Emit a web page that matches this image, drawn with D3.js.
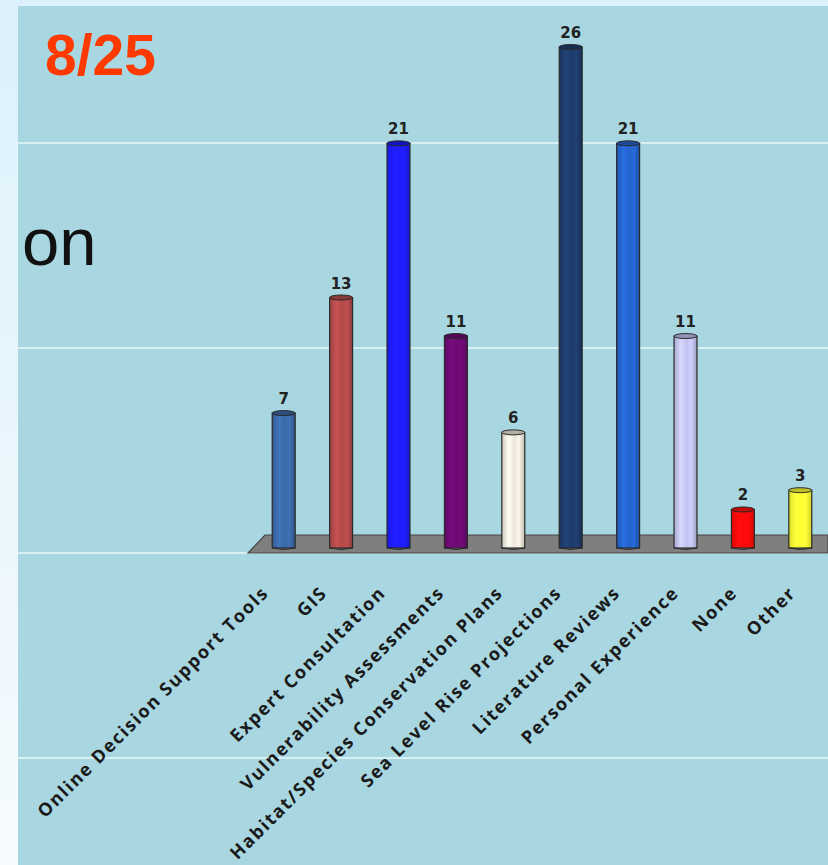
<!DOCTYPE html>
<html>
<head>
<meta charset="utf-8">
<script src="https://cdn.jsdelivr.net/npm/d3@7"></script>
<style>
  body { margin: 0; background: #e4f5fc; }
  svg { display: block; }
</style>
</head>
<body>
<script>
// chart data
const categories = ["Online Decision Support Tools", "GIS", "Expert Consultation",
  "Vulnerability Assessments", "Habitat/Species Conservation Plans",
  "Sea Level Rise Projections", "Literature Reviews", "Personal Experience",
  "None", "Other"];
const counts = [7, 13, 21, 11, 6, 26, 21, 11, 2, 3];
const barColors = ["#3b68a8", "#b44a4a", "#1c1cff", "#6c0a72", "#ece7da",
  "#1e3b6c", "#2463cc", "#c2c2f2", "#ff0a0a", "#ffff33"];
const wallTicks = [-10, 0, 10, 20];

const W = 828, H = 865;
const svg = d3.select("body").append("svg")
  .attr("width", W)
  .attr("height", H);

const defs = svg.append("defs");

let side = defs.append("linearGradient")
  .attr("id", "sideGrad")
  .attr("x1", 0).attr("x2", 0).attr("y1", 0).attr("y2", 1);
side.append("stop").attr("offset", 0).attr("stop-color", "#dcf1fb");
side.append("stop").attr("offset", 1).attr("stop-color", "#f6fbfe");

// outer frame + panel
svg.append("rect").attr("width", W).attr("height", H).attr("fill", "url(#sideGrad)");
svg.append("rect")
  .attr("x", 18).attr("y", 6)
  .attr("width", W - 18).attr("height", H - 6)
  .attr("fill", "#a9d7e1");

// back wall lines
let wallY = d3.scaleLinear().domain([0, 20]).range([553, 143]);
svg.append("g")
  .selectAll("line")
  .data(wallTicks)
  .enter()
  .append("line")
  .attr("x1", 18).attr("x2", W)
  .attr("y1", d => wallY(d)).attr("y2", d => wallY(d))
  .style("stroke", "#d6f0f4")
  .style("stroke-width", 2);

// title bits
svg.append("text")
  .text("8/25")
  .attr("x", 45).attr("y", 75)
  .style("font-family", "Liberation Sans, Arial, sans-serif")
  .style("font-weight", "bold")
  .style("font-size", "57px")
  .style("fill", "#ff3a00");

svg.append("text")
  .text("on")
  .attr("x", 22).attr("y", 265)
  .style("font-family", "Liberation Sans, Arial, sans-serif")
  .style("font-size", "67px")
  .style("fill", "#111");

// scales
let scaleX = d3.scaleBand()
  .domain(categories)
  .range([255, 829])
  .paddingInner(0.6)
  .paddingOuter(0.3);

let scaleY = d3.scaleLinear()
  .domain([0, 26])
  .range([548, 47]);

// floor
let floorL = 248, floorR = W, floorTop = 535, floorBot = 553;
svg.append("path")
  .attr("d", "M" + floorL + "," + floorBot + " L" + (floorL + 17) + "," + floorTop +
    " L" + floorR + "," + floorTop + " L" + floorR + "," + floorBot + " Z")
  .style("fill", "#7f7f7f")
  .style("stroke", "#444")
  .style("stroke-width", 1.2);

// bar gradients
barColors.forEach((c, i) => {
  let g = defs.append("linearGradient")
    .attr("id", "bar" + i)
    .attr("x1", 0).attr("x2", 1).attr("y1", 0).attr("y2", 0);
  let base = d3.color(c);
  g.append("stop").attr("offset", 0).attr("stop-color", base.darker(0.4));
  g.append("stop").attr("offset", 0.3).attr("stop-color", base.brighter(0.3));
  g.append("stop").attr("offset", 0.55).attr("stop-color", base);
  g.append("stop").attr("offset", 0.75).attr("stop-color", base.brighter(0.2));
  g.append("stop").attr("offset", 1).attr("stop-color", base.darker(0.6));
});

let bw = scaleX.bandwidth();
let bars = svg.append("g")
  .selectAll(".bar")
  .data(counts)
  .enter()
  .append("g")
  .attr("class", "bar");

bars.append("rect")
  .attr("x", (d, i) => scaleX(categories[i]))
  .attr("y", d => scaleY(d))
  .attr("width", bw)
  .attr("height", d => scaleY(0) - scaleY(d))
  .style("fill", (d, i) => "url(#bar" + i + ")")
  .style("stroke", "#2a2a2a")
  .style("stroke-width", 1.2);

// bottom curve
bars.append("path")
  .attr("d", (d, i) => {
    let x0 = scaleX(categories[i]);
    return "M" + x0 + "," + scaleY(0) + " Q" + (x0 + bw / 2) + "," + (scaleY(0) + 3) +
      " " + (x0 + bw) + "," + scaleY(0);
  })
  .style("fill", "none")
  .style("stroke", "#2a2a2a");

// top cap
bars.append("ellipse")
  .attr("cx", (d, i) => scaleX(categories[i]) + bw / 2)
  .attr("cy", d => scaleY(d))
  .attr("rx", bw / 2)
  .attr("ry", 2.5)
  .style("fill", (d, i) => d3.color(barColors[i]).darker(0.8))
  .style("stroke", "#2a2a2a")
  .style("stroke-width", 1);

// value labels
bars.append("text")
  .text(d => d)
  .attr("x", (d, i) => scaleX(categories[i]) + bw / 2)
  .attr("y", d => scaleY(d) - 9)
  .attr("text-anchor", "middle")
  .style("font-family", "DejaVu Sans, sans-serif")
  .style("font-weight", "bold")
  .style("font-size", "15px")
  .style("fill", "#222");

// category labels
svg.append("g")
  .selectAll("text")
  .data(categories)
  .enter()
  .append("text")
  .text(d => d)
  .attr("text-anchor", "end")
  .attr("transform", (d, i) => {
    let x = scaleX(d) + bw / 2 - 14 + i * 1.2;
    return "translate(" + x + ",594) rotate(-45)";
  })
  .style("font-family", "Open Sans, sans-serif")
  .style("font-weight", "bold")
  .style("font-size", "18px")
  .style("letter-spacing", "1.7px")
  .style("fill", "#1a1a1a");
</script>
</body>
</html>
